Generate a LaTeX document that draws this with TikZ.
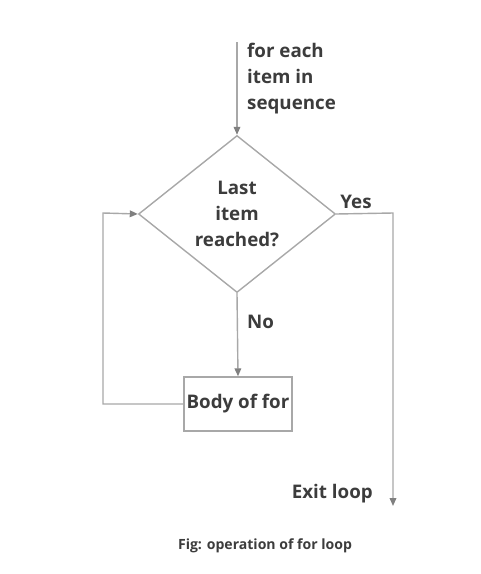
\documentclass[tikz,border=0pt]{standalone}
\usepackage{fontspec}
\setmainfont{Open Sans}
\usetikzlibrary{shapes.geometric,arrows.meta,positioning}
\definecolor{fltext}{HTML}{3C3C3C}
\definecolor{flline}{HTML}{A8A8A8}
\definecolor{flhead}{HTML}{808080}
\tikzset{
  flow/.style={draw=flline, line width=1.2pt, -{Triangle[length=0.24cm,width=0.2cm,color=flhead]}},
  link/.style={draw=flline, line width=1.2pt},
  lbl/.style={text=fltext, font=\fontsize{16}{22}\selectfont\bfseries, inner sep=0pt},
}
\begin{document}
\begin{tikzpicture}[x=0.03cm, y=-0.03cm]
  \useasboundingbox (0,0) rectangle (481,574);
  % decision and body
  \node[diamond, draw=flline, line width=1.2pt, aspect=1.255, inner sep=0pt,
        minimum width=5.91cm, minimum height=4.71cm, lbl, align=center] (cond) at (237,214)
        {Last\\item\\reached?};
  \node[rectangle, draw=flline, line width=1.2pt, minimum width=3.24cm, minimum height=1.62cm,
        lbl, inner sep=0pt] (body) at (238,404) {Body of for};
  % free ends and corners
  \coordinate (start) at (237,42);
  \coordinate (yescorner) at (393,213);
  \coordinate (exit) at (393,506);
  \coordinate (backcorner) at (103,404);
  \coordinate (backtop) at (103,213);
  % connectors
  \draw[flow] (start) -- (cond.north);
  \draw[flow] (cond.south) -- (body.north);
  \draw[flow] (cond.east) -- (yescorner) -- (exit);
  \draw[flow] (body.west) -- (backcorner) -- (backtop) -- (cond.west);
  % labels
  \node[lbl, align=left, anchor=north west] (seq) at (247,43) {for each\\item in\\sequence};
  \node[lbl, anchor=center] (yes) at (356,202) {Yes};
  \node[lbl, anchor=west] (no) at (247,322) {No};
  \node[lbl, anchor=east] (exittext) at (373,494) {Exit loop};
  \node[text=fltext, font=\fontsize{12}{14}\selectfont\bfseries, inner sep=0pt] (caption) at (265,546)
        {Fig: operation of for loop};
\end{tikzpicture}
\end{document}
